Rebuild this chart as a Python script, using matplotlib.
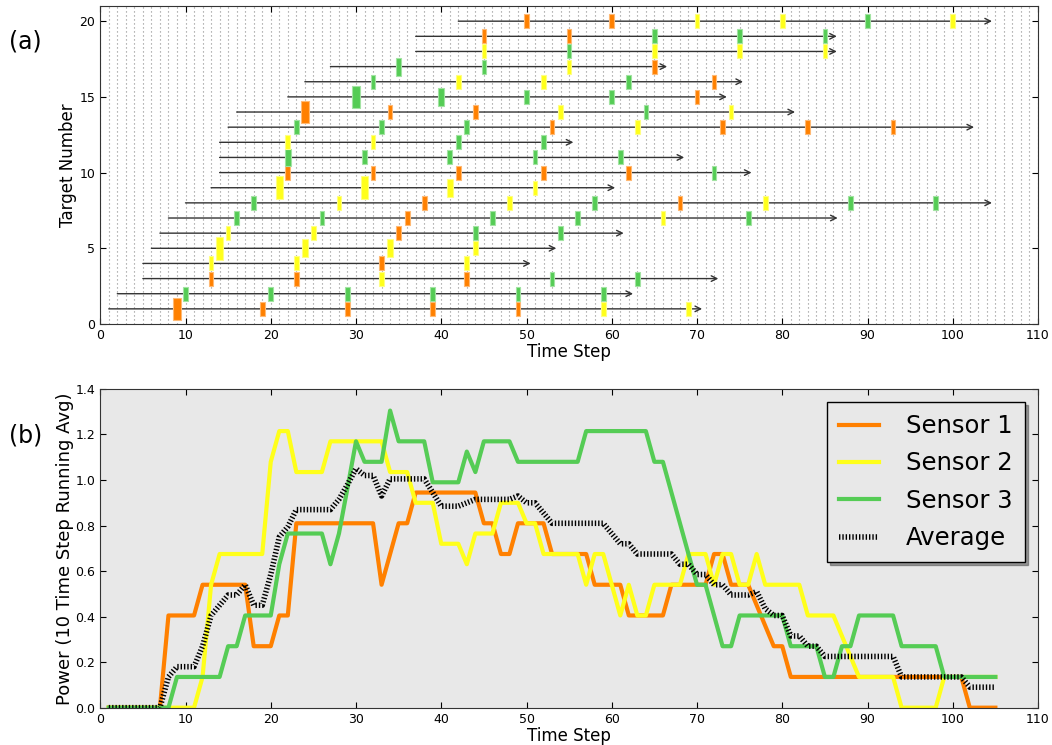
import numpy as np
import matplotlib
matplotlib.use('Agg')
import matplotlib.pyplot as plt
from matplotlib.colors import to_rgb

# ---------------- (a) target tracks ----------------
target_start = [1, 2, 5, 5, 6, 7, 8, 10, 13, 14, 14, 14, 15, 16, 22, 24, 27, 37, 37, 42]
target_end = [70.6, 62.5, 72.5, 50.5, 53.5, 61.4, 86.5, 104.6, 60.4, 76.4,
              68.5, 55.5, 102.5, 81.5, 73.5, 75.4, 66.5, 86.4, 86.4, 104.6]

detect_times = [
    [9, 19, 29, 39, 49, 59, 69],
    [10, 20, 29, 39, 49, 59],
    [13, 23, 33, 43, 53, 63],
    [13, 23, 33, 43],
    [14, 24, 34, 44],
    [15, 25, 35, 44, 54],
    [16, 26, 36, 46, 56, 66, 76],
    [18, 28, 38, 48, 58, 68, 78, 88, 98],
    [21, 31, 41, 51],
    [22, 32, 42, 52, 62, 72],
    [22, 31, 41, 51, 61],
    [22, 32, 42, 52],
    [23, 33, 43, 53, 63, 73, 83, 93],
    [24, 34, 44, 54, 64, 74],
    [30, 40, 50, 60, 70],
    [32, 42, 52, 62, 72],
    [35, 45, 55, 65],
    [45, 55, 65, 75, 85],
    [45, 55, 65, 75, 85],
    [50, 60, 70, 80, 90, 100],
]
# which sensor saw the target (1, 2, 3)
detect_sensor = ["1111122", "333333", "112133", "2212", "2222", "22133", "3313323",
                 "321231233", "2222", "111113", "33333", "2233", "33312111", "111232",
                 "33331", "32231", "3321", "23222", "11333", "112232"]
# detection strength (1 small, 2 medium, 3 large)
detect_size = ["3111111", "111111", "111111", "1111", "3221", "11111", "1111111",
               "111111111", "3321", "111111", "21111", "1111", "11111111", "311111",
               "32111", "11111", "2111", "11111", "11111", "111111"]

# ---------------- (b) power ----------------
time_steps = np.arange(1, 106)

sensor1 = [0, 0, 0, 0, 0, 0, 0, 0.405, 0.405, 0.405,
           0.405, 0.54, 0.54, 0.54, 0.54, 0.54, 0.54, 0.27, 0.27, 0.27,
           0.405, 0.405, 0.81, 0.81, 0.81, 0.81, 0.81, 0.81, 0.81, 0.81,
           0.81, 0.81, 0.54, 0.675, 0.81, 0.81, 0.945, 0.945, 0.945, 0.945,
           0.945, 0.945, 0.945, 0.945, 0.81, 0.81, 0.675, 0.675, 0.81, 0.81,
           0.81, 0.81, 0.675, 0.675, 0.675, 0.675, 0.675, 0.54, 0.54, 0.54,
           0.54, 0.405, 0.405, 0.405, 0.405, 0.405, 0.54, 0.54, 0.54, 0.54,
           0.54, 0.675, 0.675, 0.54, 0.54, 0.54, 0.45, 0.36, 0.27, 0.27,
           0.135, 0.135, 0.135, 0.135, 0.135, 0.135, 0.135, 0.135, 0.135, 0.135,
           0.135, 0.135, 0.135, 0.135, 0.135, 0.135, 0.135, 0.135, 0.135, 0.135,
           0.135, 0, 0, 0, 0]

sensor2 = [0, 0, 0, 0, 0, 0, 0, 0, 0, 0,
           0, 0.135, 0.54, 0.675, 0.675, 0.675, 0.675, 0.675, 0.675, 1.08,
           1.215, 1.215, 1.035, 1.035, 1.035, 1.035, 1.17, 1.17, 1.17, 1.17,
           1.17, 1.17, 1.17, 1.035, 1.035, 1.035, 0.9, 0.9, 0.9, 0.72,
           0.72, 0.72, 0.63, 0.765, 0.765, 0.765, 0.9, 0.9, 0.9, 0.81,
           0.81, 0.675, 0.675, 0.675, 0.675, 0.675, 0.54, 0.675, 0.675, 0.54,
           0.405, 0.54, 0.405, 0.405, 0.54, 0.54, 0.54, 0.54, 0.675, 0.675,
           0.675, 0.54, 0.675, 0.675, 0.54, 0.54, 0.675, 0.54, 0.54, 0.54,
           0.54, 0.54, 0.405, 0.405, 0.405, 0.405, 0.315, 0.225, 0.135, 0.135,
           0.135, 0.135, 0.135, 0, 0, 0, 0, 0, 0.135, 0.135,
           0.135, 0.135, 0.135, 0.135, 0.135]

sensor3 = [0, 0, 0, 0, 0, 0, 0, 0, 0.135, 0.135,
           0.135, 0.135, 0.135, 0.135, 0.27, 0.27, 0.405, 0.405, 0.405, 0.405,
           0.63, 0.765, 0.765, 0.765, 0.765, 0.765, 0.63, 0.765, 0.965, 1.17,
           1.08, 1.08, 1.08, 1.305, 1.17, 1.17, 1.17, 1.17, 0.99, 0.99,
           0.99, 0.99, 1.125, 1.035, 1.17, 1.17, 1.17, 1.17, 1.08, 1.08,
           1.08, 1.08, 1.08, 1.08, 1.08, 1.08, 1.215, 1.215, 1.215, 1.215,
           1.215, 1.215, 1.215, 1.215, 1.08, 1.08, 0.945, 0.81, 0.675, 0.54,
           0.54, 0.405, 0.27, 0.27, 0.405, 0.405, 0.405, 0.405, 0.405, 0.405,
           0.27, 0.27, 0.27, 0.27, 0.135, 0.135, 0.27, 0.27, 0.405, 0.405,
           0.405, 0.405, 0.405, 0.27, 0.27, 0.27, 0.27, 0.27, 0.135, 0.135,
           0.135, 0.135, 0.135, 0.135, 0.135]

average = [0, 0, 0, 0, 0, 0, 0, 0.135, 0.18, 0.18,
           0.18, 0.27, 0.405, 0.45, 0.495, 0.495, 0.54, 0.45, 0.45, 0.585,
           0.75, 0.795, 0.87, 0.87, 0.87, 0.87, 0.87, 0.915, 0.98, 1.05,
           1.02, 1.02, 0.93, 1.005, 1.005, 1.005, 1.005, 1.005, 0.945, 0.885,
           0.885, 0.885, 0.9, 0.915, 0.915, 0.915, 0.915, 0.915, 0.93, 0.9,
           0.9, 0.855, 0.81, 0.81, 0.81, 0.81, 0.81, 0.81, 0.81, 0.765,
           0.72, 0.72, 0.675, 0.675, 0.675, 0.675, 0.675, 0.63, 0.63, 0.585,
           0.585, 0.54, 0.54, 0.495, 0.495, 0.495, 0.51, 0.435, 0.405, 0.405,
           0.315, 0.315, 0.27, 0.27, 0.225, 0.225, 0.225, 0.225, 0.225, 0.225,
           0.225, 0.225, 0.225, 0.135, 0.135, 0.135, 0.135, 0.135, 0.135, 0.135,
           0.135, 0.09, 0.09, 0.09, 0.09]

sensor_colors = {'1': '#ff8000', '2': '#ffff1a', '3': '#55cc55'}
mark_wh = {'1': (0.55, 0.92), '2': (0.67, 1.18), '3': (0.86, 1.5)}


def lighter(c, f=0.45):
    r, g, b = to_rgb(c)
    return (r + (1 - r) * f, g + (1 - g) * f, b + (1 - b) * f)


fig = plt.figure(figsize=(10.52, 7.45), dpi=100)
ax1 = fig.add_axes([0.0953, 0.5651, 0.8914, 0.4268])
ax2 = fig.add_axes([0.0953, 0.0501, 0.8914, 0.4278])

#---------- top panel ----------
for i in range(len(target_start)):
    row = i + 1
    ax1.annotate('', xy=(target_end[i], row), xytext=(target_start[i], row),
                 arrowprops=dict(arrowstyle='->', color='0.2', lw=1.0,
                                 shrinkA=0, shrinkB=0), zorder=3)
    cols = [sensor_colors[s] for s in detect_sensor[i]]
    w = [mark_wh[s][0] for s in detect_size[i]]
    h = np.array([mark_wh[s][1] for s in detect_size[i]])
    ax1.bar(detect_times[i], h, width=w, bottom=row - h / 2, color=cols,
            edgecolor=[lighter(c) for c in cols], linewidth=0.8, zorder=4)

ax1.set_xlim(0, 110)
ax1.set_ylim(0, 21)
ax1.set_xticks(np.arange(0, 111, 10))
ax1.set_xticks(np.arange(0, 111, 1), minor=True)
ax1.set_yticks([0, 5, 10, 15, 20])
ax1.set_axisbelow(True)
ax1.grid(True, which='both', axis='x', linestyle=(0, (1, 2.6)), color='0.55', linewidth=0.8)
ax1.tick_params(which='minor', length=0)
ax1.set_xlabel('Time Step', fontsize=12, labelpad=1)
ax1.set_ylabel('Target Number', fontsize=12, labelpad=2)

#---------- bottom panel ----------
ax2.set_facecolor('#e8e8e8')
ax2.plot(time_steps, sensor1, color=sensor_colors['1'], lw=3, label='Sensor 1')
ax2.plot(time_steps, sensor2, color=sensor_colors['2'], lw=3, label='Sensor 2')
ax2.plot(time_steps, sensor3, color=sensor_colors['3'], lw=3, label='Sensor 3')
ax2.plot(time_steps, average, color='black', lw=4, linestyle=(0, (0.25, 0.35)), label='Average')
ax2.set_xlim(0, 110)
ax2.set_ylim(0, 1.4)
ax2.set_xticks(np.arange(0, 111, 10))
ax2.set_yticks(np.arange(0, 1.41, 0.2))
ax2.set_xlabel('Time Step', fontsize=12, labelpad=1)
ax2.set_ylabel('Power (10 Time Step Running Avg)', fontsize=13, labelpad=1)
leg = ax2.legend(loc='upper right', bbox_to_anchor=(1 - 13 / 938, 1 - 13 / 319), borderaxespad=0,
                 fontsize=17.5, handlelength=1.65, handletextpad=1.1, labelspacing=0.55,
                 fancybox=False, shadow=True, framealpha=1, borderpad=0.5)
leg.get_frame().set_facecolor('#e8e8e8')
leg.get_frame().set_edgecolor('black')

for ax in (ax1, ax2):
    ax.tick_params(which='major', direction='in', top=True, right=True, length=4,
                   labelsize=9)
    for sp in ax.spines.values():
        sp.set_color('0.2')

fig.text(0.024, 1 - 42 / 745, '(a)', fontsize=17, ha='center', va='center')
fig.text(0.024, 1 - 436 / 745, '(b)', fontsize=17, ha='center', va='center')

fig.savefig('out.png', dpi=100)
